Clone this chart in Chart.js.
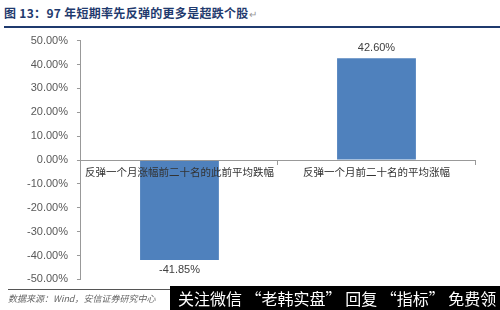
<!DOCTYPE html>
<html><head><meta charset="utf-8">
<script src="https://cdn.jsdelivr.net/npm/chart.js@4/dist/chart.umd.min.js"></script>
<style>
html,body{margin:0;padding:0;background:#fff;width:500px;height:310px;overflow:hidden;position:relative;font-family:"Noto Sans CJK SC",sans-serif}
#title{position:absolute;left:4px;top:4px;font-size:12px;font-weight:bold;color:#1f3a6e;white-space:nowrap;letter-spacing:0.3px}
#title .pm{color:#999;font-weight:normal;font-size:10px}
#tline{position:absolute;left:4px;top:26px;width:496px;height:1.5px;background:#1f3a6e}
#wrap{position:absolute;left:0;top:25px;width:500px;height:270px}
#bline{position:absolute;left:8px;top:289px;width:170px;height:1px;background:#555}
#src{position:absolute;left:8px;top:292px;font-size:9px;font-style:italic;color:#666;white-space:nowrap;background:#fff}
#wm{position:absolute;left:170px;top:286px;width:330px;height:24px;background:#000;color:#fff;font-size:16px;line-height:24px;white-space:nowrap;padding-left:8px;box-sizing:border-box}
</style></head>
<body>
<div id="title">图 13：97 年短期率先反弹的更多是超跌个股<span class="pm">↵</span></div>
<div id="tline"></div>
<div id="wrap"><canvas id="c" width="500" height="270"></canvas></div>
<div id="bline"></div>
<div id="src">数据来源：Wind，安信证券研究中心</div>
<div id="wm">关注微信 “老韩实盘” 回复 “指标” 免费领</div>
<script>
const categories = ["反弹一个月涨幅前二十名的此前平均跌幅", "反弹一个月前二十名的平均涨幅"];
const values = [-41.85, 42.60];
const yTicks = [50, 40, 30, 20, 10, 0, -10, -20, -30, -40, -50];

const valueLabels = {
  id: 'valueLabels',
  afterDatasetsDraw(chart) {
    const ctx = chart.ctx;
    const meta = chart.getDatasetMeta(0);
    ctx.save();
    ctx.font = '11px "Liberation Sans", Arial, sans-serif';
    ctx.fillStyle = '#404040';
    ctx.textAlign = 'center';
    meta.data.forEach((bar, i) => {
      const v = values[i];
      const txt = v.toFixed(2) + '%';
      if (v >= 0) { ctx.textBaseline = 'bottom'; ctx.fillText(txt, bar.x, bar.y - 5); }
      else { ctx.textBaseline = 'top'; ctx.fillText(txt, bar.x, bar.y + 5); }
    });
    ctx.restore();
  }
};

new Chart(document.getElementById('c'), {
  type: 'bar',
  data: {
    labels: categories,
    datasets: [{ data: values, backgroundColor: '#4f81bd', borderWidth: 0, barPercentage: 0.4, categoryPercentage: 1.0 }]
  },
  options: {
    responsive: false,
    animation: false,
    layout: { padding: { top: 6, right: 25, bottom: 2, left: 18 } },
    plugins: { legend: { display: false }, tooltip: { enabled: false } },
    scales: {
      x: {
        position: { y: 0 },
        grid: { display: true, drawOnChartArea: false, drawTicks: true, tickLength: 4, color: '#999', offset: true },
        border: { display: true, color: '#999', z: 1 },
        ticks: { z: 1, color: '#333', font: { family: '"Noto Sans CJK SC", sans-serif', size: 10.5 }, padding: 2, maxRotation: 0, autoSkip: false }
      },
      y: {
        min: -50, max: 50,
        afterBuildTicks(scale) { scale.ticks = yTicks.map(v => ({ value: v })); },
        grid: { display: true, drawOnChartArea: false, drawTicks: true, tickLength: 4, color: '#999' },
        border: { display: true, color: '#999' },
        ticks: { color: '#595959', font: { family: '"Liberation Sans", Arial, sans-serif', size: 11 }, padding: 9, callback: v => v.toFixed(2) + '%' }
      }
    }
  },
  plugins: [valueLabels]
});
</script>
</body></html>
